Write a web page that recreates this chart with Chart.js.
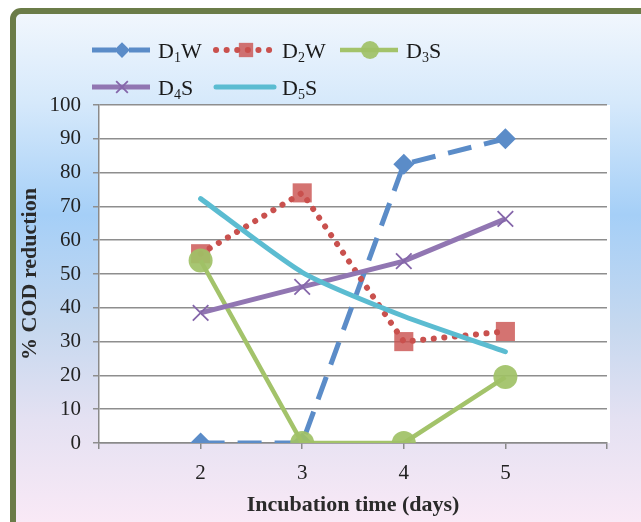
<!DOCTYPE html>
<html>
<head>
<meta charset="utf-8">
<script src="https://cdn.jsdelivr.net/npm/chart.js@4/dist/chart.umd.min.js"></script>
<style>
  html, body { margin: 0; padding: 0; background: #ffffff; }
  #wrap { width: 641px; height: 522px; }
</style>
</head>
<body>
<div id="wrap"><canvas id="c" width="641" height="522"></canvas></div>
<script>
// Incubation days on the x axis
const days = [2, 3, 4, 5];

// % COD reduction per series
const d1w = [0, 0, 82.5, 90];
const d2w = [56, 74, 30, 33];
const d3s = [54, 0, 0, 19.5];
const d4s = [38.5, 46.2, 53.8, 66.3];
const d5s = [72.3, 50.5, 37.5, 27];

// Legend names: base letter, subscript digit, suffix
const seriesNames = [
  ['D', '1', 'W'],
  ['D', '2', 'W'],
  ['D', '3', 'S'],
  ['D', '4', 'S'],
  ['D', '5', 'S']
];

const yTicks = [0, 10, 20, 30, 40, 50, 60, 70, 80, 90, 100];

const pts = vals => days.map((d, i) => ({ x: d, y: vals[i] }));

const colors = {
  blue: '#5B8CC8',
  red: '#C9514E',
  redMarker: 'rgba(201, 80, 77, 0.8)',
  green: '#A3C36A',
  purple: '#9176B2',
  cyan: '#5BBCD1'
};

const datasets = [
  {
    label: 'D1W', data: pts(d1w), borderColor: colors.blue, backgroundColor: colors.blue,
    borderWidth: 5, borderDash: [24, 13], pointStyle: 'rectRot', pointRadius: 10.5,
    pointBorderWidth: 0, pointBackgroundColor: colors.blue, order: 5
  },
  {
    label: 'D2W', data: pts(d2w), borderColor: colors.red, backgroundColor: colors.redMarker,
    borderWidth: 6, borderDash: [0.1, 10.5], borderCapStyle: 'round', pointStyle: 'rect', pointRadius: 13.5,
    pointBorderWidth: 0, pointBackgroundColor: colors.redMarker, order: 4
  },
  {
    label: 'D3S', data: pts(d3s), borderColor: colors.green, backgroundColor: colors.green,
    borderWidth: 4.5, pointStyle: 'circle', pointRadius: 12,
    pointBorderWidth: 0, pointBackgroundColor: 'rgba(160, 193, 102, 0.92)', order: 3
  },
  {
    label: 'D4S', data: pts(d4s), borderColor: colors.purple, backgroundColor: colors.purple,
    borderWidth: 5, pointStyle: 'crossRot', pointRadius: 11,
    pointBorderWidth: 1.8, pointBorderColor: '#8566AA', order: 2
  },
  {
    label: 'D5S', data: pts(d5s), borderColor: colors.cyan, backgroundColor: colors.cyan,
    borderWidth: 5, pointRadius: 0, tension: 0.2, borderCapStyle: 'round', order: 1
  }
];

// Frame, gradient backdrop and white plot area
const backdrop = {
  id: 'backdrop',
  beforeDraw(chart) {
    const { ctx, chartArea } = chart;
    const W = chart.width, H = chart.height;
    ctx.save();
    ctx.fillStyle = '#ffffff';
    ctx.fillRect(0, 0, W, H);
    const g = ctx.createLinearGradient(0, 10, 0, H);
    g.addColorStop(0.0, '#F2F7FD');
    g.addColorStop(0.18, '#D6E9FB');
    g.addColorStop(0.40, '#A5CFF7');
    g.addColorStop(0.62, '#C6D8EF');
    g.addColorStop(0.80, '#E4E1F2');
    g.addColorStop(1.0, '#F9E9F6');
    ctx.fillStyle = g;
    ctx.beginPath();
    ctx.roundRect(13, 11, W + 20, H + 20, 8);
    ctx.fill();
    ctx.lineWidth = 6;
    ctx.strokeStyle = '#6B7C48';
    ctx.stroke();
    ctx.fillStyle = '#ffffff';
    ctx.fillRect(chartArea.left, chartArea.top, chartArea.right - chartArea.left + 3, chartArea.bottom - chartArea.top);
    ctx.restore();
  }
};

// Two-row legend with line samples and subscript digits
const legendRows = {
  id: 'legendRows',
  afterDraw(chart) {
    const { ctx } = chart;
    const slots = [[92, 50], [216, 50], [340, 50], [92, 87], [216, 87]];
    const sampleLen = 58;
    ctx.save();
    chart.data.datasets.forEach((ds, i) => {
      const [x0, y] = slots[i];
      ctx.save();
      ctx.strokeStyle = ds.borderColor;
      ctx.lineWidth = ds.borderWidth;
      ctx.lineCap = ds.borderCapStyle || 'butt';
      ctx.setLineDash(ds.borderDash || []);
      ctx.beginPath();
      ctx.moveTo(x0, y);
      ctx.lineTo(x0 + sampleLen, y);
      ctx.stroke();
      ctx.restore();
      if (ds.pointRadius > 0) {
        const style = {
          pointStyle: ds.pointStyle,
          rotation: 0,
          radius: ds.pointRadius * 0.75,
          borderWidth: ds.pointBorderWidth
        };
        ctx.save();
        ctx.fillStyle = ds.pointBackgroundColor;
        ctx.strokeStyle = ds.pointBorderColor || ds.borderColor;
        ctx.lineWidth = ds.pointBorderWidth;
        Chart.helpers.drawPoint(ctx, style, x0 + 30, y);
        ctx.restore();
      }
      const [a, sub, b] = seriesNames[i];
      ctx.fillStyle = '#1a1a1a';
      ctx.textBaseline = 'alphabetic';
      ctx.textAlign = 'left';
      let tx = x0 + 66;
      const base = y + 8;
      ctx.font = '22px "Liberation Serif", "Times New Roman", serif';
      ctx.fillText(a, tx, base);
      tx += ctx.measureText(a).width;
      ctx.font = '14px "Liberation Serif", "Times New Roman", serif';
      ctx.fillText(sub, tx, base + 4);
      tx += ctx.measureText(sub).width;
      ctx.font = '22px "Liberation Serif", "Times New Roman", serif';
      ctx.fillText(b, tx, base);
    });
    ctx.restore();
  }
};

const serif = '"Liberation Serif", "Times New Roman", serif';

new Chart(document.getElementById('c'), {
  type: 'line',
  data: { datasets },
  plugins: [backdrop, legendRows],
  options: {
    responsive: false,
    animation: false,
    events: [],
    layout: { padding: { top: 105, right: 34, left: 0, bottom: 0 } },
    plugins: { legend: { display: false }, tooltip: { enabled: false } },
    scales: {
      x: {
        type: 'linear', min: 1, max: 6,
        afterFit(scale) { scale.height = 79; },
        afterBuildTicks(scale) { scale.ticks = [1, 2, 3, 4, 5, 6].map(v => ({ value: v })); },
        ticks: {
          callback: v => days.includes(v) ? String(v) : '',
          font: { family: serif, size: 21 }, color: '#222', padding: 12, maxRotation: 0
        },
        grid: { drawOnChartArea: false, drawTicks: true, tickLength: 6, color: '#8A8A8A', lineWidth: 1.5 },
        border: { display: true, color: '#8A8A8A', width: 1.5 },
        title: {
          display: true, text: 'Incubation time (days)',
          font: { family: serif, size: 22, weight: 'bold' }, color: '#2a2a2a',
          padding: { top: 0, bottom: 3 }
        }
      },
      y: {
        min: 0, max: 100,
        afterFit(scale) { scale.width = 99; },
        afterBuildTicks(scale) { scale.ticks = yTicks.map(v => ({ value: v })); },
        ticks: { font: { family: serif, size: 21 }, color: '#222', padding: 12 },
        grid: { color: '#8E8E8E', lineWidth: 1.5, tickLength: 6 },
        border: { display: true, color: '#8A8A8A', width: 1.5 },
        title: {
          display: true, text: '% COD reduction',
          font: { family: serif, size: 22, weight: 'bold' }, color: '#2a2a2a',
          padding: { top: 17, bottom: 0 }
        }
      }
    }
  }
});
</script>
</body>
</html>
